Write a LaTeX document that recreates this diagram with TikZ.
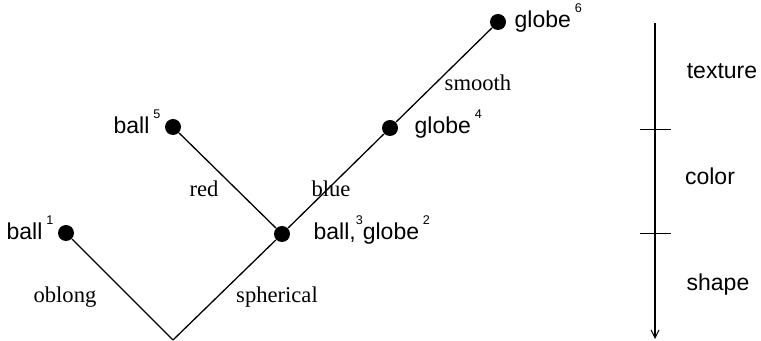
\documentclass[tikz,border=0pt]{standalone}
\usepackage{fontspec}
\setmainfont{Liberation Serif}
\setsansfont{Liberation Sans}
\usetikzlibrary{arrows.meta}
\newcommand{\idx}[1]{\,\raisebox{7.5pt}{\fontsize{6.3}{7}\selectfont #1}}
\tikzset{
  dot/.style={circle, fill, inner sep=0pt, minimum size=8pt},
  obj/.style={font=\sffamily\fontsize{11.5}{13}\selectfont, inner sep=0pt},
  feat/.style={font=\rmfamily\fontsize{11.3}{13}\selectfont, inner sep=0pt},
}
\begin{document}
\begin{tikzpicture}[x=0.5pt, y=-0.5pt, line width=0.65pt]
  \useasboundingbox (0,0) rectangle (761,341);
  % tree
  \coordinate (root) at (173,340);
  \node[dot] (b1) at (66,233) {};
  \node[dot] (n3) at (282,234) {};
  \node[dot] (b5) at (173,127) {};
  \node[dot] (g4) at (390,128) {};
  \node[dot] (g6) at (498,22) {};
  \draw (root) -- (b1);
  \draw (root) -- (n3);
  \draw (n3) -- (b5);
  \draw (n3) -- (g4);
  \draw (g4) -- (g6);
  % objects
  \node[obj, anchor=base west] (t1) at (6,240) {ball\idx{1}};
  \node[obj, anchor=base west] (t3) at (313,240) {ball,\raisebox{7.5pt}{\fontsize{6.3}{7}\selectfont 3}globe\idx{2}};
  \node[obj, anchor=base west] (t5) at (113,134) {ball\idx{5}};
  \node[obj, anchor=base west] (t4) at (414,134) {globe\idx{4}};
  \node[obj, anchor=base west] (t6) at (514,28) {globe\idx{6}};
  % features
  \node[feat, anchor=base] (f1) at (65,303) {oblong};
  \node[feat, anchor=base] (f2) at (277,303) {spherical};
  \node[feat, anchor=base] (f3) at (204,197) {red};
  \node[feat, anchor=base] (f4) at (331,197) {blue};
  \node[feat, anchor=base] (f5) at (478,91) {smooth};
  % axis
  \coordinate (top) at (655,23);
  \coordinate (bot) at (655,339);
  \draw[line width=0.9pt, -{Straight Barb[length=4pt, width=4pt, line width=0.5pt]}] (top) -- (bot);
  \draw[line width=0.5pt] (640,130) -- (671,130);
  \draw[line width=0.5pt] (640,234) -- (671,234);
  \node[obj, anchor=base] (a1) at (722,79) {texture};
  \node[obj, anchor=base] (a2) at (710,185) {color};
  \node[obj, anchor=base] (a3) at (718,291) {shape};
\end{tikzpicture}
\end{document}
